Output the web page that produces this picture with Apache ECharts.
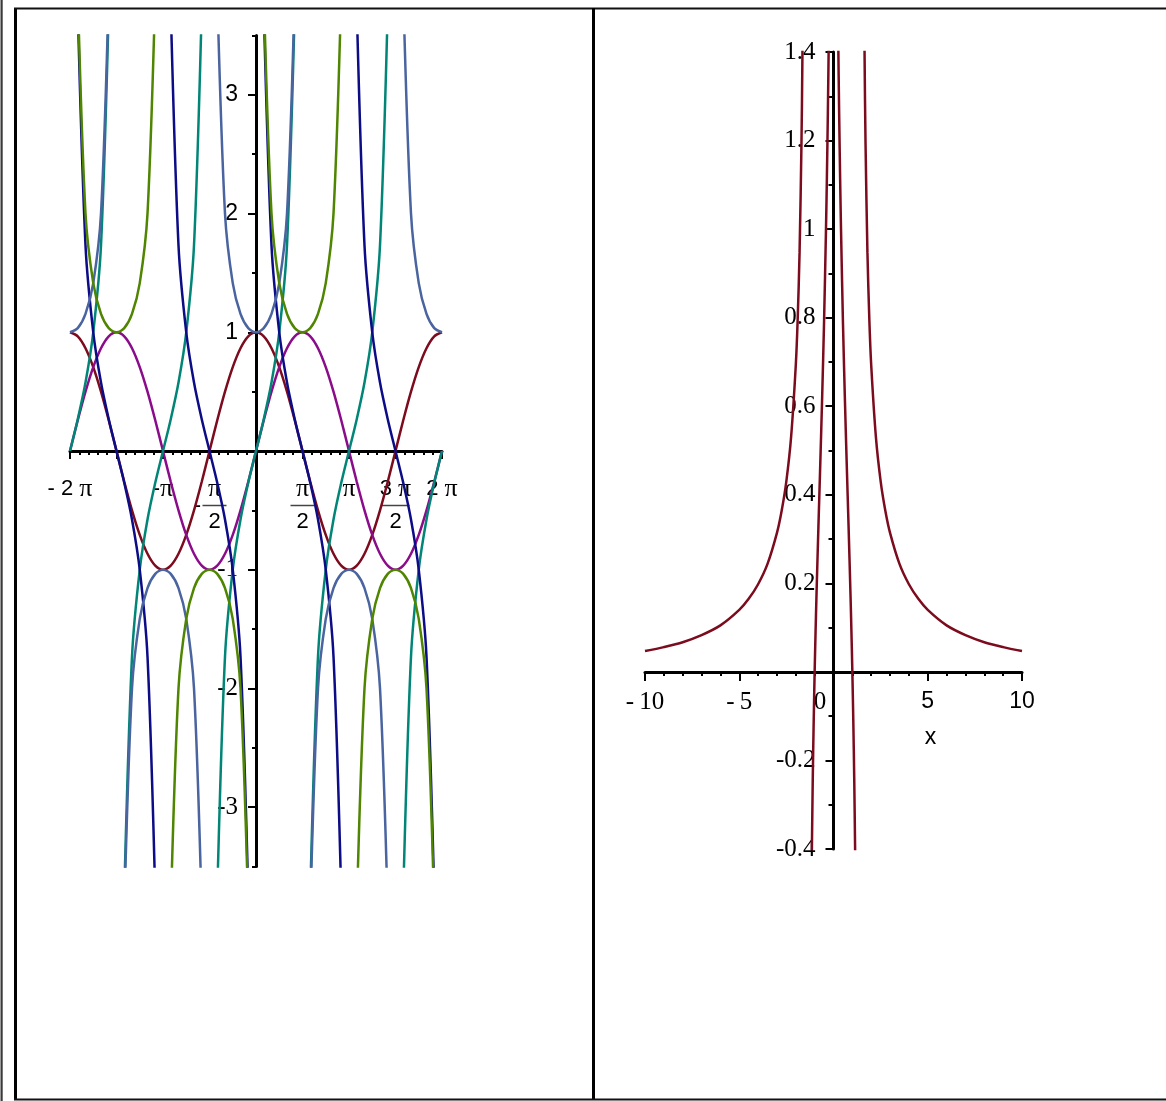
<!DOCTYPE html>
<html>
<head>
<meta charset="utf-8">
<title>trig functions and ln(x^2)/(x^2-2)</title>
<script src="https://cdn.jsdelivr.net/npm/echarts@6.0.0/dist/echarts.min.js"></script>
<style>
  html, body { margin: 0; padding: 0; background: #fff; }
  #main { width: 1166px; height: 1101px; }
</style>
</head>
<body>
<div id="main"></div>
<script>
// left plot, sampled every 15 degrees from -2pi to 2pi ('-' = off the chart / undefined)
const angleDeg = [-360, -345, -330, -315, -300, -285, -270, -255, -240, -225, -210, -195,
  -180, -165, -150, -135, -120, -105, -90, -75, -60, -45, -30, -15,
  0, 15, 30, 45, 60, 75, 90, 105, 120, 135, 150, 165,
  180, 195, 210, 225, 240, 255, 270, 285, 300, 315, 330, 345, 360]

const sinVals = [0, .259, .5, .707, .866, .966, 1, .966, .866, .707, .5, .259,
  0, -.259, -.5, -.707, -.866, -.966, -1, -.966, -.866, -.707, -.5, -.259,
  0, .259, .5, .707, .866, .966, 1, .966, .866, .707, .5, .259,
  0, -.259, -.5, -.707, -.866, -.966, -1, -.966, -.866, -.707, -.5, -.259, 0]

const cosVals = [1, .966, .866, .707, .5, .259, 0, -.259, -.5, -.707, -.866, -.966,
  -1, -.966, -.866, -.707, -.5, -.259, 0, .259, .5, .707, .866, .966,
  1, .966, .866, .707, .5, .259, 0, -.259, -.5, -.707, -.866, -.966,
  -1, -.966, -.866, -.707, -.5, -.259, 0, .259, .5, .707, .866, .966, 1]

const tanVals = [0, .268, .577, 1, 1.732, 3.732, '-', -3.732, -1.732, -1, -.577, -.268,
  0, .268, .577, 1, 1.732, 3.732, '-', -3.732, -1.732, -1, -.577, -.268,
  0, .268, .577, 1, 1.732, 3.732, '-', -3.732, -1.732, -1, -.577, -.268,
  0, .268, .577, 1, 1.732, 3.732, '-', -3.732, -1.732, -1, -.577, -.268, 0]

const cotVals = ['-', 3.732, 1.732, 1, .577, .268, 0, -.268, -.577, -1, -1.732, -3.732,
  '-', 3.732, 1.732, 1, .577, .268, 0, -.268, -.577, -1, -1.732, -3.732,
  '-', 3.732, 1.732, 1, .577, .268, 0, -.268, -.577, -1, -1.732, -3.732,
  '-', 3.732, 1.732, 1, .577, .268, 0, -.268, -.577, -1, -1.732, -3.732, '-']

const secVals = [1, 1.035, 1.155, 1.414, 2, 3.864, '-', -3.864, -2, -1.414, -1.155, -1.035,
  -1, -1.035, -1.155, -1.414, -2, -3.864, '-', 3.864, 2, 1.414, 1.155, 1.035,
  1, 1.035, 1.155, 1.414, 2, 3.864, '-', -3.864, -2, -1.414, -1.155, -1.035,
  -1, -1.035, -1.155, -1.414, -2, -3.864, '-', 3.864, 2, 1.414, 1.155, 1.035, 1]

const cscVals = ['-', 3.864, 2, 1.414, 1.155, 1.035, 1, 1.035, 1.155, 1.414, 2, 3.864,
  '-', -3.864, -2, -1.414, -1.155, -1.035, -1, -1.035, -1.155, -1.414, -2, -3.864,
  '-', 3.864, 2, 1.414, 1.155, 1.035, 1, 1.035, 1.155, 1.414, 2, 3.864,
  '-', -3.864, -2, -1.414, -1.155, -1.035, -1, -1.035, -1.155, -1.414, -2, -3.864, '-']

const yMajorTicks = [-3, -2, -1, 1, 2, 3]
const yMinorTicks = [-3.5, -2.5, -1.5, -0.5, 0.5, 1.5, 2.5, 3.5]

// right plot, four branches of the curve
const farLeftX = [-10, -9, -8, -7, -6, -5, -4.5, -4, -3.5, -3, -2.75, -2.5, -2.25, -2, -1.9, -1.8, -1.7, -1.65, -1.6]
const farLeftY = [0.047, 0.056, 0.067, 0.083, 0.105, 0.140, 0.165, 0.198, 0.244, 0.314, 0.364, 0.431, 0.530, 0.693, 0.797, 0.948, 1.192, 1.386, 1.679]
const midLeftX = [-1.15, -1.1, -1.05, -1, -0.95, -0.9, -0.8, -0.7, -0.6, -0.5, -0.4, -0.35, -0.3, -0.25, -0.2]
const midLeftY = [-0.413, -0.241, -0.109, 0, 0.093, 0.177, 0.328, 0.472, 0.623, 0.792, 0.996, 1.118, 1.261, 1.431, 1.642]
const midRightX = [0.2, 0.25, 0.3, 0.35, 0.4, 0.5, 0.6, 0.7, 0.8, 0.9, 0.95, 1, 1.05, 1.1, 1.15]
const midRightY = [1.642, 1.431, 1.261, 1.118, 0.996, 0.792, 0.623, 0.472, 0.328, 0.177, 0.093, 0, -0.109, -0.241, -0.413]
const farRightX = [1.6, 1.65, 1.7, 1.8, 1.9, 2, 2.25, 2.5, 2.75, 3, 3.5, 4, 4.5, 5, 6, 7, 8, 9, 10]
const farRightY = [1.679, 1.386, 1.192, 0.948, 0.797, 0.693, 0.530, 0.431, 0.364, 0.314, 0.244, 0.198, 0.165, 0.140, 0.105, 0.083, 0.067, 0.056, 0.047]

const SANS = 'Liberation Sans'
const SERIF = 'Liberation Serif'
const AXIS = '#000'
const curveRed = '#7b0b1d'

// plot boxes
const boxL = { left: 70, top: 35.5, width: 372, height: 831, xMin: -2 * Math.PI, xMax: 2 * Math.PI, yMin: -3.5, yMax: 3.5 }
const boxR = { left: 645, top: 52, width: 377, height: 797, xMin: -10, xMax: 10, yMin: -0.4, yMax: 1.4 }

// axes cross at the origin: shift them from the box edges with offset
const xOffset = b => -b.height * (0 - b.yMin) / (b.yMax - b.yMin)
const yOffset = b => -b.width * (0 - b.xMin) / (b.xMax - b.xMin)

const toPairs = (xs, ys) => xs.map((x, i) => [x, ys[i]])
const rad = angleDeg.map(d => d * Math.PI / 180)
const halfPi = Math.PI / 2

// multiples of pi/2 -> label (fractions as 3-line rich text)
const piLabels = {
  '-4': '{s|- 2 }{p|π}',
  '-2': '{s|-}{p|π}',
  '-1': '{pad| }{p|π}\n{m|-}{bar| }\n{pad| }{s|2}',
  '1': '{p|π}\n{bar| }\n{s|2}',
  '2': '{p|π}',
  '3': '{s|3 }{p|π}\n{bar3| }\n{s|2}',
  '4': '{s|2 }{p|π}'
}

const trig = [
  { name: 'cos', vals: cosVals, color: curveRed },
  { name: 'sin', vals: sinVals, color: '#8a0c8a' },
  { name: 'tan', vals: tanVals, color: '#008577' },
  { name: 'cot', vals: cotVals, color: '#0c0c86' },
  { name: 'sec', vals: secVals, color: '#4a64a0' },
  { name: 'csc', vals: cscVals, color: '#4f8500' }
]

const lineSeries = (data, color, xi, yi) => ({
  type: 'line',
  xAxisIndex: xi,
  yAxisIndex: yi,
  data: data,
  smooth: 0.3,
  symbol: 'none',
  clip: true,
  connectNulls: false,
  lineStyle: { color: color, width: 2.5 },
  emphasis: { disabled: true }
})

const series = trig.map(t => lineSeries(toPairs(rad, t.vals), t.color, 0, 0))
series.push(lineSeries(toPairs(farLeftX, farLeftY), curveRed, 1, 2))
series.push(lineSeries(toPairs(midLeftX, midLeftY), curveRed, 1, 2))
series.push(lineSeries(toPairs(midRightX, midRightY), curveRed, 1, 2))
series.push(lineSeries(toPairs(farRightX, farRightY), curveRed, 1, 2))

const chart = echarts.init(document.getElementById('main'), null, { renderer: 'canvas' })

chart.setOption({
  animation: false,
  backgroundColor: '#fff',
  grid: [
    { left: boxL.left, top: boxL.top, width: boxL.width, height: boxL.height, containLabel: false, outerBoundsMode: 'none' },
    { left: boxR.left, top: boxR.top, width: boxR.width, height: boxR.height, containLabel: false, outerBoundsMode: 'none' }
  ],
  xAxis: [
    {
      type: 'value', gridIndex: 0, position: 'bottom', offset: xOffset(boxL),
      min: boxL.xMin, max: boxL.xMax, interval: halfPi,
      axisLine: { onZero: false, lineStyle: { color: AXIS, width: 3 } },
      axisTick: { length: 8, lineStyle: { color: AXIS, width: 2 } },
      minorTick: { show: true, splitNumber: 5, length: 4, lineStyle: { color: AXIS, width: 2 } },
      splitLine: { show: false },
      minorSplitLine: { show: false },
      axisLabel: {
        margin: 27, showMinLabel: true, showMaxLabel: true, interval: 0,
        formatter: v => piLabels[Math.round(v / halfPi)] || '',
        rich: {
          s: { fontFamily: SANS, fontSize: 22, lineHeight: 22, color: '#000' },
          p: { fontFamily: SERIF, fontSize: 26, lineHeight: 22, color: '#000' },
          m: { fontFamily: SANS, fontSize: 22, width: 10, lineHeight: 11, color: '#000' },
          pad: { width: 10, lineHeight: 22 },
          bar: { width: 24, height: 1.5, lineHeight: 11, backgroundColor: '#444' },
          bar3: { width: 28, height: 1.5, lineHeight: 11, backgroundColor: '#444' }
        }
      }
    },
    {
      type: 'value', gridIndex: 1, position: 'bottom', offset: xOffset(boxR),
      min: boxR.xMin, max: boxR.xMax, interval: 5,
      name: 'x', nameLocation: 'middle', nameGap: 54,
      nameTextStyle: { fontFamily: SANS, fontSize: 23, color: '#000', padding: [0, 0, 0, 194] },
      axisLine: { onZero: false, lineStyle: { color: AXIS, width: 3 } },
      axisTick: { length: 9, lineStyle: { color: AXIS, width: 2 } },
      minorTick: { show: true, splitNumber: 5, length: 4, lineStyle: { color: AXIS, width: 2 } },
      splitLine: { show: false },
      minorSplitLine: { show: false },
      axisLabel: {
        margin: 18, showMinLabel: true, showMaxLabel: true, interval: 0,
        formatter: v => {
          if (Math.abs(v) < 1e-9) return '{z|0}'
          if (v < 0) return '{r|-\u2009' + Math.abs(v) + '}'
          return '{s|' + v + '}'
        },
        rich: {
          s: { fontFamily: SANS, fontSize: 23, color: '#000' },
          r: { fontFamily: SERIF, fontSize: 25, color: '#000' },
          z: { fontFamily: SERIF, fontSize: 25, color: '#000', padding: [0, 27, 0, 0] }
        }
      }
    }
  ],
  yAxis: [
    {
      type: 'value', gridIndex: 0, position: 'left', offset: yOffset(boxL),
      min: boxL.yMin, max: boxL.yMax,
      axisLine: { onZero: false, lineStyle: { color: AXIS, width: 3 } },
      axisTick: { customValues: yMajorTicks, length: 8, lineStyle: { color: AXIS, width: 2 } },
      splitLine: { show: false },
      axisLabel: {
        customValues: yMajorTicks, margin: 18,
        formatter: v => v < 0 ? '{r|' + v + '}' : '{s|' + v + '}',
        rich: {
          s: { fontFamily: SANS, fontSize: 23, color: '#000' },
          r: { fontFamily: SERIF, fontSize: 25, color: '#000' }
        }
      }
    },
    {
      // only the half-unit ticks
      type: 'value', gridIndex: 0, position: 'left', offset: yOffset(boxL),
      min: boxL.yMin, max: boxL.yMax,
      axisLine: { show: false, onZero: false },
      axisTick: { customValues: yMinorTicks, length: 4, lineStyle: { color: AXIS, width: 2 } },
      axisLabel: { show: false },
      splitLine: { show: false }
    },
    {
      type: 'value', gridIndex: 1, position: 'left', offset: yOffset(boxR),
      min: boxR.yMin, max: boxR.yMax, interval: 0.2,
      axisLine: { onZero: false, lineStyle: { color: AXIS, width: 3 } },
      axisTick: { length: 8, lineStyle: { color: AXIS, width: 2 } },
      minorTick: { show: true, splitNumber: 2, length: 5, lineStyle: { color: AXIS, width: 2 } },
      splitLine: { show: false },
      minorSplitLine: { show: false },
      axisLabel: {
        margin: 18, showMinLabel: true, showMaxLabel: true, interval: 0,
        formatter: v => {
          const r = Math.round(v * 10) / 10
          if (r === 0) return ''
          return '{r|' + (r < 0 ? '-' + Math.abs(r) : r) + '}'
        },
        rich: { r: { fontFamily: SERIF, fontSize: 25, color: '#000' } }
      }
    }
  ],
  series: series,
  graphic: [
    // table borders round the two plots
    { type: 'rect', silent: true, shape: { x: 0.5, y: 0, width: 2.2, height: 1101 }, style: { fill: '#3a3a3a' } },
    { type: 'rect', silent: true, shape: { x: 14, y: 8, width: 3, height: 1092 }, style: { fill: '#000' } },
    { type: 'rect', silent: true, shape: { x: 14, y: 7.5, width: 1152, height: 2 }, style: { fill: '#111' } },
    { type: 'rect', silent: true, shape: { x: 592, y: 8, width: 3, height: 1092 }, style: { fill: '#000' } },
    { type: 'rect', silent: true, shape: { x: 14, y: 1098.5, width: 1152, height: 2 }, style: { fill: '#111' } }
  ]
})
</script>
</body>
</html>
